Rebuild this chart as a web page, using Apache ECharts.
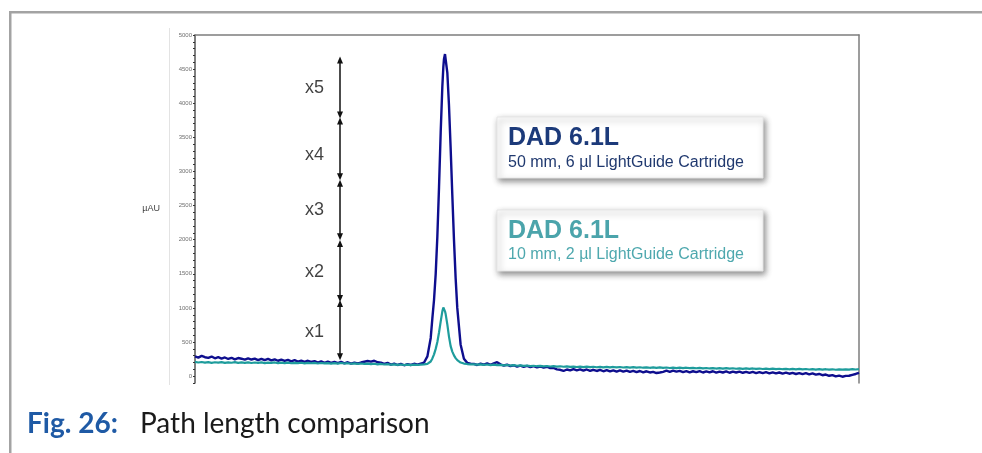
<!DOCTYPE html>
<html>
<head>
<meta charset="utf-8">
<script src="https://cdn.jsdelivr.net/npm/echarts@6/dist/echarts.min.js"></script>
<style>
html,body{margin:0;padding:0;background:#fff;}
#chart{width:982px;height:453px;}
</style>
</head>
<body>
<div id="chart"></div>
<script>
// ---- time grid (arbitrary retention-time units, 0..100) ----
const timesLeft = [
  0,0.5,1,1.5,2,2.5,3,3.5,4,4.5,
  5,5.5,6,6.5,7,7.5,8,8.5,9,9.5,
  10,10.5,11,11.5,12,12.5,13,13.5,14,14.5,
  15,15.5,16,16.5,17,17.5,18,18.5,19,19.5,
  20,20.5,21,21.5,22,22.5,23,23.5,24,24.5,
  25,25.5,26,26.5,27,27.5,28,28.5,29,29.5,
  30,30.5,31,31.5,32,32.5,33,33.5
];
const timesPeak = [
  34,34.5,35,35.5,35.75,36,36.25,36.5,36.75,37,
  37.25,37.4,37.5,37.65,37.75,38,38.25,38.5,38.75,39,
  39.25,39.5,40,40.5,41,41.5
];
const timesRight = [
  42,42.5,43,43.5,44,44.5,45,45.5,46,46.5,
  47,47.5,48,48.5,49,49.5,50,50.5,51,51.5,
  52,52.5,53,53.5,54,54.5,55,55.5,56,56.5,
  57,57.5,58,58.5,59,59.5,60,60.5,61,61.5,
  62,62.5,63,63.5,64,64.5,65,65.5,66,66.5,
  67,67.5,68,68.5,69,69.5,70,70.5,71,71.5,
  72,72.5,73,73.5,74,74.5,75,75.5,76,76.5,
  77,77.5,78,78.5,79,79.5,80,80.5,81,81.5,
  82,82.5,83,83.5,84,84.5,85,85.5,86,86.5,
  87,87.5,88,88.5,89,89.5,90,90.5,91,91.5,
  92,92.5,93,93.5,94,94.5,95,95.5,96,96.5,
  97,97.5,98,98.5,99,99.5,100
];

// ---- DAD 6.1L, 50 mm / 6 µl cartridge (dark blue trace), µAU ----
const blueLeft = [
  290,272,298,278,268,288,262,278,258,274,
  252,270,246,266,256,242,262,244,258,236,
  254,234,252,232,247,226,242,224,238,218,
  234,214,228,210,226,208,222,200,218,196,
  214,194,210,190,208,188,204,184,200,186,
  200,212,222,214,226,204,198,180,194,170,
  184,164,180,160,178,164,182,168
];
const bluePeak = [
  185,200,290,560,850,1120,1500,2050,2770,3570,
  4245,4530,4650,4720,4700,4450,3970,3345,2660,2005,
  1440,1000,465,255,195,182
];
const blueRight = [
  180,164,184,168,186,166,188,205,174,156,
  168,146,160,140,155,136,150,132,148,128,
  142,124,138,118,120,100,94,76,98,84,
  104,86,100,80,98,78,94,76,92,72,
  90,70,86,68,84,66,82,64,79,60,
  76,56,72,54,64,46,54,64,80,64,
  82,66,78,60,74,56,72,58,74,54,
  70,56,72,52,68,54,70,50,66,54,
  68,50,64,48,62,46,60,44,58,42,
  56,40,54,38,52,36,48,32,46,30,
  44,26,40,22,32,14,24,6,16,-2,
  8,-8,4,6,20,32,50
];

// ---- DAD 6.1L, 10 mm / 2 µl cartridge (teal trace), µAU ----
const tealLeft = [
  210,200,208,198,205,196,204,199,206,195,
  203,197,205,194,201,196,203,193,200,195,
  202,192,199,194,201,191,198,192,199,189,
  196,190,197,188,195,189,194,186,193,187,
  192,184,191,185,193,186,190,182,188,180,
  186,179,184,176,182,174,179,171,176,168,
  173,165,171,164,170,163,169,164
];
const tealPeak = [
  168,172,180,215,260,320,400,500,640,800,
  950,1007,990,950,910,760,580,440,360,305,
  265,235,200,185,178,174
];
const tealRight = [
  172,168,174,166,171,163,169,161,166,158,
  164,156,161,153,158,151,156,148,153,146,
  151,144,149,142,147,140,145,138,143,136,
  141,134,140,133,139,132,138,131,137,130,
  136,129,135,128,134,127,133,126,132,125,
  131,124,130,123,129,122,128,121,127,120,
  126,119,125,118,124,117,122,116,121,114,
  120,113,119,112,118,111,117,110,116,109,
  115,108,114,107,113,106,112,105,111,104,
  110,103,109,102,108,101,107,100,106,99,
  105,98,104,97,103,96,102,95,101,94,
  100,95,101,96,103,98,104
];

// ---- y-axis tick labels (every 500 µAU) ----
const yTickLabels = [0,500,1000,1500,2000,2500,3000,3500,4000,4500,5000];

// ---- path-length multiple annotations (x1..x5) ----
const arrowTime = 21.84;
const arrowLabelTime = 18.0;
const arrowNames = ['x1','x2','x3','x4','x5'];
const arrowLow  = [283, 1139, 2043, 2922, 3827];
const arrowHigh = [1066, 1946, 2826, 3739, 4633];
const arrowLabelY = [645, 1525, 2434, 3240, 4223];

const times = timesLeft.concat(timesPeak, timesRight);
const blue = blueLeft.concat(bluePeak, blueRight);
const teal = tealLeft.concat(tealPeak, tealRight);

const ARIAL = 'Arial, "Liberation Sans", sans-serif';
const chart = echarts.init(document.getElementById('chart'), null, {renderer:'canvas', width:982, height:453});

const option = {
  animation: false,
  backgroundColor: '#ffffff',
  grid: {left:195, right:123, top:35, bottom:70, containLabel:false},
  xAxis: [
    {type:'value', min:0, max:100, position:'bottom',
     axisLine:{show:false, onZero:false}, axisTick:{show:false}, axisLabel:{show:false}, splitLine:{show:false}},
    {type:'value', min:0, max:100, position:'top',
     axisLine:{show:true, onZero:false, lineStyle:{color:'#7d7d7d', width:1.5}},
     axisTick:{show:false}, axisLabel:{show:false}, splitLine:{show:false}}
  ],
  yAxis: [
    {type:'value', min:-100, max:5000, interval:100, position:'left',
     axisLine:{show:true, onZero:false, lineStyle:{color:'#555', width:1.5}},
     axisTick:{show:true, length:2, lineStyle:{color:'#333', width:1}},
     axisLabel:{show:true, fontSize:6, color:'#6f6f6f', margin:3, fontFamily:ARIAL,
       formatter: v => yTickLabels.indexOf(v) >= 0 ? String(v) : ''},
     splitLine:{show:false},
     name:'µAU', nameLocation:'middle', nameRotate:0, nameGap:35,
     nameTextStyle:{fontSize:9, color:'#444', fontFamily:ARIAL}},
    {type:'value', min:-100, max:5000, position:'right',
     axisLine:{show:true, onZero:false, lineStyle:{color:'#7d7d7d', width:1.5}},
     axisTick:{show:false}, axisLabel:{show:false}, splitLine:{show:false}}
  ],
  series: [
    {name:'50 mm', type:'line', xAxisIndex:0, yAxisIndex:0, showSymbol:false, symbol:'none',
     data: times.map((t,i)=>[t, blue[i]]), lineStyle:{color:'#0e0e8e', width:2.4}, clip:false, z:2},
    {name:'10 mm', type:'line', xAxisIndex:0, yAxisIndex:0, showSymbol:false, symbol:'none',
     data: times.map((t,i)=>[t, teal[i]]), lineStyle:{color:'#1e9c9c', width:2.2}, clip:false, z:3},
    {name:'multiples', type:'scatter', xAxisIndex:0, yAxisIndex:0, symbolSize:1,
     itemStyle:{color:'rgba(0,0,0,0)'}, silent:true,
     data: arrowNames.map((n,i)=>({name:n, value:[arrowLabelTime, arrowLabelY[i]]})),
     label:{show:true, position:'inside', formatter: p => p.name, fontSize:18, color:'#111', fontFamily:ARIAL},
     markLine:{silent:true, symbol:['triangle','triangle'], symbolSize:[6,7],
       label:{show:false}, lineStyle:{color:'#111', width:1.5, type:'solid'},
       data: arrowNames.map((n,i)=>[{coord:[arrowTime, arrowLow[i]]},{coord:[arrowTime, arrowHigh[i]]}])},
     z:4}
  ],
  graphic: [
    {type:'rect', shape:{x:9, y:11, width:973, height:2.5}, style:{fill:'#a3a3a3'}, silent:true},
    {type:'rect', shape:{x:9, y:11, width:2.5, height:442}, style:{fill:'#a3a3a3'}, silent:true},
    {type:'line', shape:{x1:169.5, y1:28, x2:169.5, y2:385}, style:{stroke:'#e3e3e3', lineWidth:1}, silent:true},
    {type:'group', silent:true, children:[
      {type:'rect', shape:{x:497, y:117, width:266, height:61},
       style:{fill:'#fff', stroke:'#e6e6e6', lineWidth:1, shadowBlur:6, shadowOffsetX:2, shadowOffsetY:3, shadowColor:'rgba(0,0,0,0.45)'}},
      {type:'text', x:508, y:138, style:{text:'DAD 6.1L', font:'bold 25px '+ARIAL, fill:'#1c3a7a', verticalAlign:'middle'}},
      {type:'text', x:508, y:162.5, style:{text:'50 mm, 6 µl LightGuide Cartridge', font:'16px '+ARIAL, fill:'#20396f', verticalAlign:'middle'}},
      {type:'rect', shape:{x:497, y:210, width:266, height:61},
       style:{fill:'#fff', stroke:'#e6e6e6', lineWidth:1, shadowBlur:6, shadowOffsetX:2, shadowOffsetY:3, shadowColor:'rgba(0,0,0,0.45)'}},
      {type:'text', x:508, y:231, style:{text:'DAD 6.1L', font:'bold 25px '+ARIAL, fill:'#4ba4ab', verticalAlign:'middle'}},
      {type:'text', x:508, y:254.5, style:{text:'10 mm, 2 µl LightGuide Cartridge', font:'16px '+ARIAL, fill:'#4ea8ae', verticalAlign:'middle'}}
    ]},
    {type:'text', x:27, y:424, silent:true, style:{text:'Fig. 26:', font:'bold 28px Lato, "Noto Sans", sans-serif', fill:'#1f5aa5', verticalAlign:'middle'}},
    {type:'text', x:140, y:424, silent:true, style:{text:'Path length comparison', font:'28px Lato, "Noto Sans", sans-serif', fill:'#1a1a1a', verticalAlign:'middle'}}
  ]
};
chart.setOption(option);
</script>
</body>
</html>
